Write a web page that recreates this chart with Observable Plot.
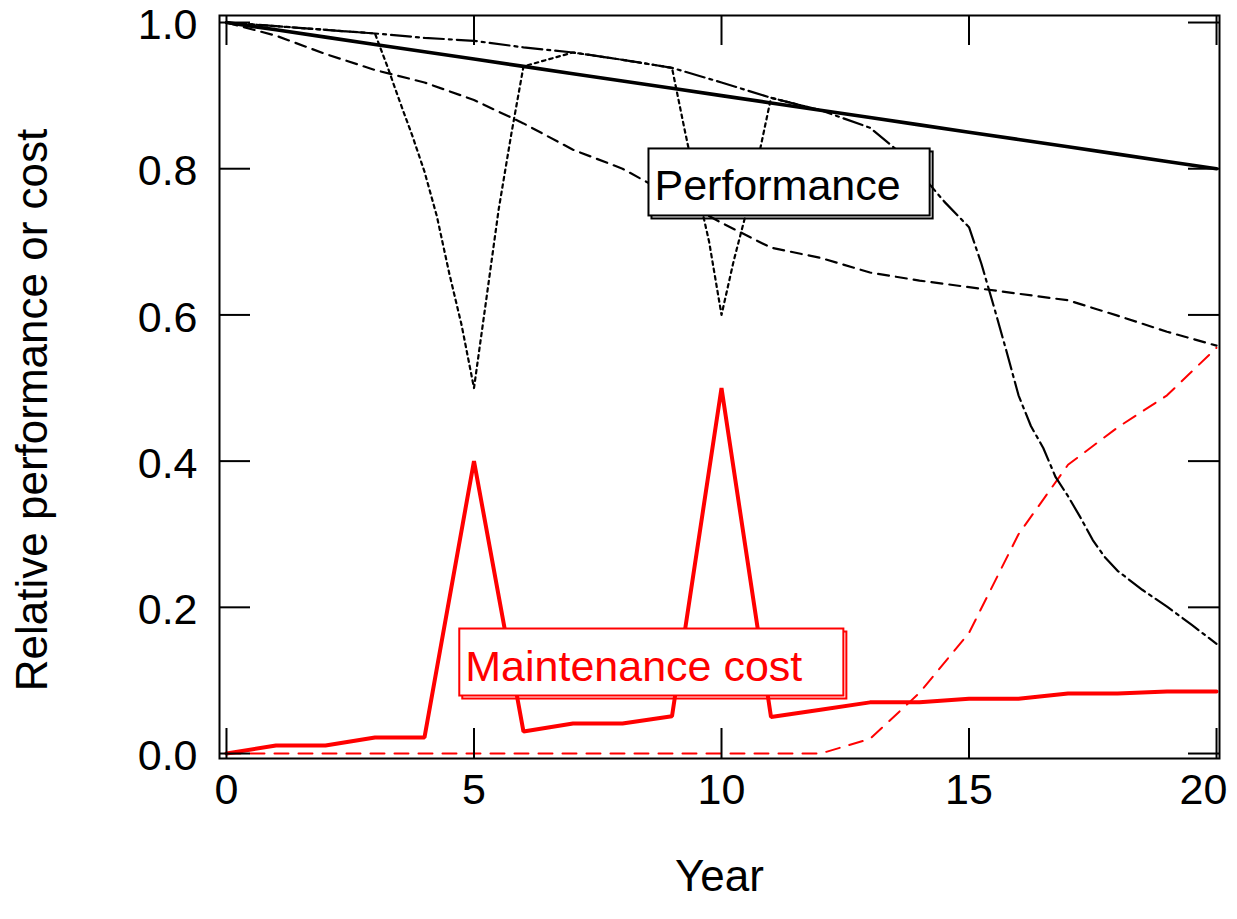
<!DOCTYPE html>
<html>
<head>
<meta charset="utf-8">
<script src="https://cdn.jsdelivr.net/npm/d3@7"></script>
<script src="https://cdn.jsdelivr.net/npm/@observablehq/plot@0.6"></script>
<style>
  html, body { margin: 0; padding: 0; background: #ffffff; }
  #chart svg { display: block; }
</style>
</head>
<body>
<div id="chart"></div>
<script>
// ---------------- data ----------------
const years = [0,1,2,3,4,5,6,7,8,9,10,11,12,13,14,15,16,17,18,19,20];
const perfSolid  = [1.00,0.99,0.98,0.97,0.96,0.95,0.94,0.93,0.92,0.91,0.90,0.89,0.88,0.87,0.86,0.85,0.84,0.83,0.82,0.81,0.80];
const perfDashed = [1.00,0.982,0.957,0.935,0.918,0.894,0.862,0.826,0.800,0.763,0.726,0.692,0.678,0.658,0.647,0.638,0.629,0.620,0.599,0.577,0.558];
const costSolid  = [0.000,0.011,0.011,0.022,0.022,0.400,0.030,0.041,0.041,0.051,0.500,0.050,0.060,0.070,0.070,0.075,0.075,0.082,0.082,0.085,0.085];
const costDashed = [0,0,0,0,0,0,0,0,0,0,0,0,0,0.020,0.083,0.165,0.300,0.395,0.446,0.490,0.555];

const dashDotYears = [0,1,2,3,4,5,6,7,8,9,10,11,12,13,13.5,14,14.5,15,15.25,15.5,15.75,16,16.25,16.5,16.75,17,17.25,17.5,17.75,18,18.5,19,19.5,20];
const dashDotPerf  = [1.000,0.995,0.990,0.985,0.979,0.975,0.966,0.959,0.949,0.938,0.918,0.897,0.880,0.856,0.828,0.795,0.755,0.720,0.670,0.612,0.552,0.490,0.448,0.418,0.378,0.352,0.323,0.292,0.268,0.250,0.224,0.201,0.176,0.150];

const dottedYears = [0,1,2,3,3.25,3.5,3.75,4,4.25,4.5,4.75,5,5.25,5.5,5.75,6,7,8,9,9.25,9.5,9.75,10,10.25,10.5,10.75,11,12];
const dottedPerf  = [1.000,0.995,0.990,0.985,0.940,0.892,0.846,0.796,0.735,0.657,0.586,0.500,0.622,0.745,0.846,0.940,0.959,0.949,0.938,0.855,0.775,0.700,0.600,0.675,0.740,0.817,0.897,0.880];

const xTicks = [0,5,10,15,20];
const yTicks = [0,0.2,0.4,0.6,0.8,1.0];

const perfLabel = [{x: 8.646, y: 0.7754, text: "Performance"}];
const costLabel = [{x: 4.824, y: 0.1187, text: "Maintenance cost"}];

// ---------------- build tables ----------------
const zipXY = (xs, ys) => xs.map((x, i) => ({x, y: ys[i]}));
const tPerfSolid  = zipXY(years, perfSolid);
const tPerfDashed = zipXY(years, perfDashed);
const tCostSolid  = zipXY(years, costSolid);
const tCostDashed = zipXY(years, costDashed);
const tDashDot    = zipXY(dashDotYears, dashDotPerf);
const tDotted     = zipXY(dottedYears, dottedPerf);

// ---------------- layout ----------------
const W = 1237, H = 919;
const mL = 219, mR = 18, mT = 15, mB = 161;
const frameW = W - mL - mR, frameH = H - mT - mB;
const tickLen = 30;
const FONT = "'Liberation Sans', Arial, Helvetica, sans-serif";

const plot = Plot.plot({
  width: W, height: H,
  marginLeft: mL, marginRight: mR, marginTop: mT, marginBottom: mB,
  x: {domain: [-0.141, 20.06]},
  y: {domain: [-0.0068, 1.0096]},
  style: {fontFamily: FONT, background: "#ffffff", color: "#000000", overflow: "visible"},
  marks: [
    Plot.line(tCostDashed, {x: "x", y: "y", stroke: "#ff0000", strokeWidth: 2, strokeDasharray: "14,10"}),
    Plot.line(tPerfDashed, {x: "x", y: "y", stroke: "#000000", strokeWidth: 2.2, strokeDasharray: "11,7"}),
    Plot.line(tDashDot, {x: "x", y: "y", stroke: "#000000", strokeWidth: 2.2, strokeDasharray: "20,5,3,5"}),
    Plot.line(tDotted, {x: "x", y: "y", stroke: "#000000", strokeWidth: 2.2, strokeDasharray: "3.5,4"}),
    Plot.line(tPerfSolid, {x: "x", y: "y", stroke: "#000000", strokeWidth: 3.6}),
    Plot.line(tCostSolid, {x: "x", y: "y", stroke: "#ff0000", strokeWidth: 4, strokeLinejoin: "miter"}),

    Plot.text(perfLabel, {x: "x", y: "y", text: "text", textAnchor: "start", lineAnchor: "middle",
      fontSize: 43, fill: "#000000"}),
    Plot.text(costLabel, {x: "x", y: "y", text: "text", textAnchor: "start", lineAnchor: "middle",
      fontSize: 43, fill: "#ff0000"}),

    // inward ticks on all four sides
    Plot.tickX(xTicks, {x: d => d, insetTop: frameH - tickLen, stroke: "#000", strokeWidth: 2}),
    Plot.tickX(xTicks, {x: d => d, insetBottom: frameH - tickLen, stroke: "#000", strokeWidth: 2}),
    Plot.tickY(yTicks, {y: d => d, insetRight: frameW - tickLen - 1, stroke: "#000", strokeWidth: 2}),
    Plot.tickY(yTicks, {y: d => d, insetLeft: frameW - tickLen - 1, stroke: "#000", strokeWidth: 2}),
    Plot.frame({stroke: "#000", strokeWidth: 2}),

    Plot.axisX({ticks: xTicks.slice(0, -1), tickSize: 0, tickPadding: 15, fontSize: 43, tickFormat: d => String(d), label: null}),
    Plot.axisX({ticks: xTicks.slice(-1), tickSize: 0, tickPadding: 15, fontSize: 43, tickFormat: d => String(d), label: null, dx: -13}),
    Plot.axisY({ticks: yTicks, tickSize: 0, tickPadding: 22, fontSize: 43, tickFormat: d3.format(".1f"), label: null, dy: 3}),

    Plot.text(["Year"], {frameAnchor: "bottom", dy: 132, fontSize: 44, fill: "#000"}),
    Plot.text(["Relative performance or cost"], {frameAnchor: "left", textAnchor: "middle", rotate: -90, dx: -187, dy: 23, fontSize: 44, fill: "#000"})
  ]
});

document.getElementById("chart").appendChild(plot);

// boxes with drop shadow behind the annotation labels
const svgNS = "http://www.w3.org/2000/svg";
function boxify(label, color, pad) {
  Array.from(plot.querySelectorAll("text"))
    .filter(t => t.textContent === label)
    .forEach(t => {
      const g = t.parentNode;
      const bb = t.getBBox();
      const x0 = bb.x - pad.l, y0 = bb.y - pad.t;
      const w = bb.width + pad.l + pad.r, h = bb.height + pad.t + pad.b;
      const tr = t.getAttribute("transform") || "";
      const mk = (dx, fill) => {
        const r = document.createElementNS(svgNS, "rect");
        r.setAttribute("x", x0 + dx); r.setAttribute("y", y0 + dx);
        r.setAttribute("width", w); r.setAttribute("height", h);
        r.setAttribute("fill", fill); r.setAttribute("stroke", color);
        r.setAttribute("stroke-width", 2);
        if (tr) r.setAttribute("transform", tr);
        return r;
      };
      g.insertBefore(mk(3, "none"), t);
      g.insertBefore(mk(0, "#ffffff"), t);
    });
}
boxify("Performance", "#000000", {l: 6, r: 29, t: 13, b: 6});
boxify("Maintenance cost", "#ff0000", {l: 6, r: 41, t: 13, b: 6});
</script>
</body>
</html>
